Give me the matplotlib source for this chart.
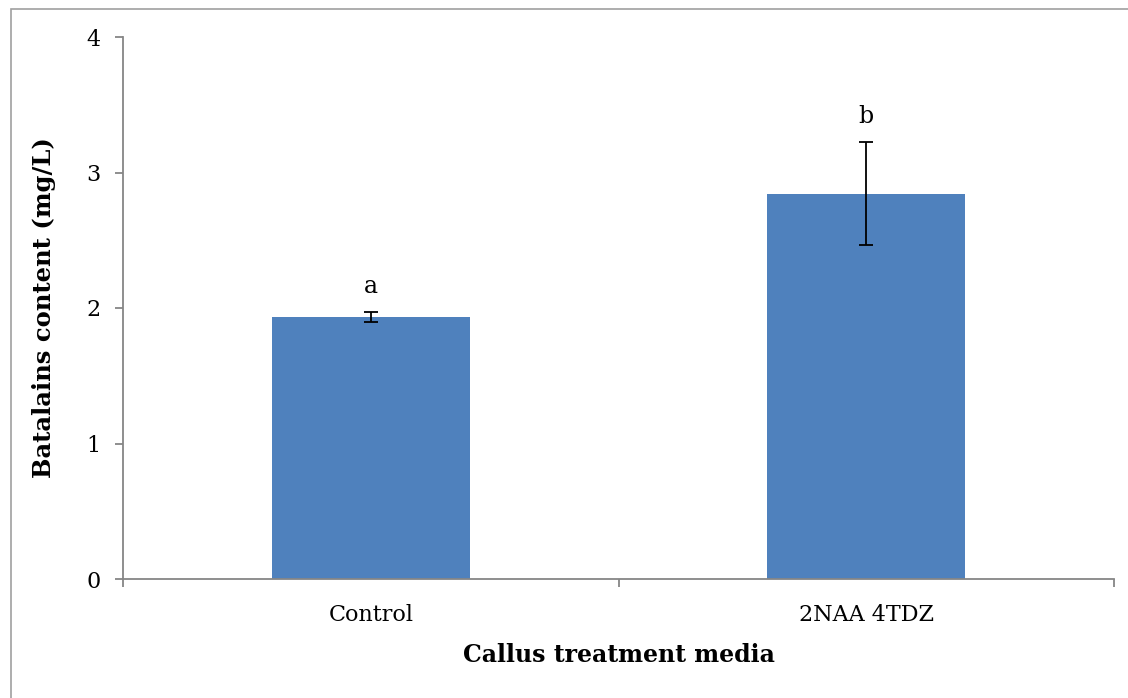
import matplotlib.pyplot as plt
import matplotlib.patches as patches

# data
categories = ['Control', '2NAA 4TDZ']
values = [1.935, 2.845]
errors = [0.035, 0.38]
letters = ['a', 'b']

plt.rcParams['font.family'] = ['DejaVu Serif']

fig = plt.figure(figsize=(11.28, 6.98), dpi=100)
ax = fig.add_axes([123 / 1128, 1 - 579 / 698, (1114 - 123) / 1128, (579 - 37) / 698])

x = range(len(categories))
ax.bar(x, values, width=0.4, color='#4F81BD', zorder=2)
ax.errorbar(x, values, yerr=errors, fmt='none', ecolor='black', elinewidth=1.3,
            capsize=4.7, capthick=1.3, zorder=3)

for i in x:
    ax.annotate(letters[i], (i, values[i] + errors[i]), xytext=(0, 14),
                textcoords='offset points', ha='center', va='baseline', fontsize=17)

ax.set_xlim(-0.5, 1.5)
ax.set_ylim(0, 4)
ax.set_yticks([0, 1, 2, 3, 4])
ax.set_xticks(list(x))
ax.set_xticklabels(categories, fontsize=16)
ax.tick_params(axis='x', length=0, pad=18)
ax.set_xticks([-0.5, 0.5, 1.5], minor=True)
ax.tick_params(axis='x', which='minor', length=6, color='#868686', width=1.3)
ax.tick_params(axis='y', length=6, color='#868686', width=1.3, labelsize=16, pad=10)

for s in ['top', 'right']:
    ax.spines[s].set_visible(False)
for s in ['left', 'bottom']:
    ax.spines[s].set_color('#868686')
    ax.spines[s].set_linewidth(1.3)

ax.set_ylabel('Batalains content (mg/L)', fontsize=17.5, fontweight='bold', labelpad=22)
ax.set_xlabel('Callus treatment media', fontsize=17, fontweight='bold', labelpad=12)

# chart area border
fig.patches.append(patches.Rectangle((11 / 1128, -0.1), 1.2, 1 - 9 / 698 + 0.1,
                                     transform=fig.transFigure, fill=False,
                                     edgecolor='#A0A0A0', linewidth=1.2))

fig.savefig('out.png', dpi=100)
